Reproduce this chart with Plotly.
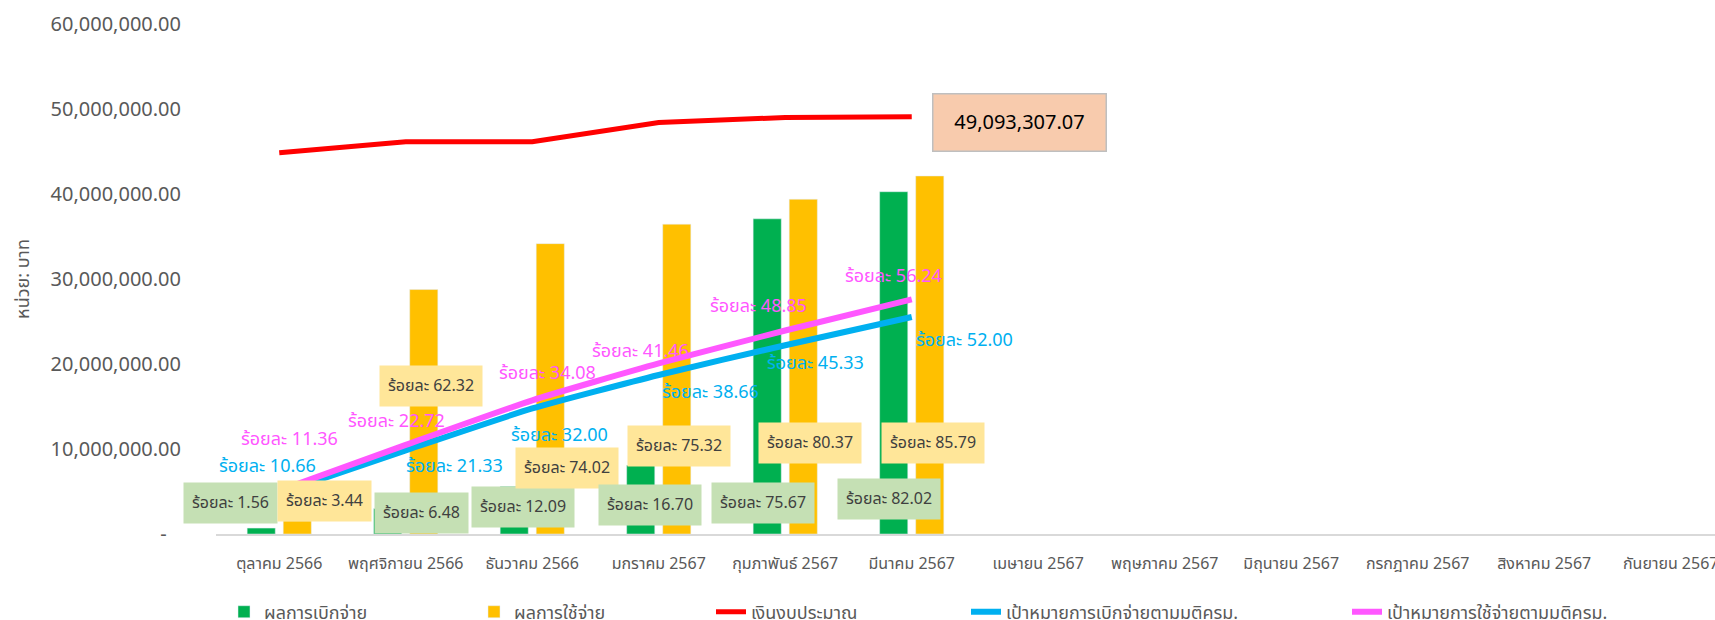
import plotly.graph_objects as go

FONT = "Tahoma, 'Leelawadee UI', 'Noto Sans Thai', 'Noto Sans', sans-serif"
GREY = "#595959"

MONTHS = [
    "ตุลาคม 2566", "พฤศจิกายน 2566", "ธันวาคม 2566", "มกราคม 2567",
    "กุมภาพันธ์ 2567", "มีนาคม 2567", "เมษายน 2567", "พฤษภาคม 2567",
    "มิถุนายน 2567", "กรกฎาคม 2567", "สิงหาคม 2567", "กันยายน 2567",
]

# values (baht), only Oct-Mar reported
DISBURSED = [0.70e6, 2.99e6, 5.58e6, 8.08e6, 37.08e6, 40.27e6]
SPENT = [1.54e6, 28.76e6, 34.16e6, 36.45e6, 39.38e6, 42.12e6]
BUDGET = [44.86e6, 46.15e6, 46.15e6, 48.40e6, 49.00e6, 49093307.07]
TARGET_DISB = [4.78e6, 9.84e6, 14.77e6, 18.71e6, 22.21e6, 25.53e6]
TARGET_SPEND = [5.10e6, 10.49e6, 15.73e6, 20.07e6, 23.94e6, 27.61e6]

PCT_DISB = ["1.56", "6.48", "12.09", "16.70", "75.67", "82.02"]
PCT_SPENT = ["3.44", "62.32", "74.02", "75.32", "80.37", "85.79"]
PCT_TGT_DISB = ["10.66", "21.33", "32.00", "38.66", "45.33", "52.00"]
PCT_TGT_SPEND = ["11.36", "22.72", "34.08", "41.46", "48.85", "56.24"]

Y_TICKS = [0, 10e6, 20e6, 30e6, 40e6, 50e6, 60e6]

# label offsets in px: (dx from category centre, dy up from anchor)
OFF_DISB = [(-49, 31), (16, 21), (-9, 27), (-9, 29), (-22, 31), (-23, 35)]
OFF_SPENT = [(45, 33), (25, 148), (35, 66), (20, 88), (25, 91), (21, 91)]
OFF_TGT_DISB = [(-12, 27), (49, -16), (27, -27), (52, -18), (30, -18), (53, -23)]
OFF_TGT_SPEND = [(10, 51), (-9, 23), (15, 27), (-18, 12), (-27, 24), (-18, 23)]

n = len(DISBURSED)
x = MONTHS[:n]

fig = go.Figure()
fig.add_trace(go.Bar(x=x, y=DISBURSED, name="ผลการเบิกจ่าย", marker_color="#00B050", legend="legend"))
fig.add_trace(go.Bar(x=x, y=SPENT, name="ผลการใช้จ่าย", marker_color="#FFC000", legend="legend2"))
fig.add_trace(go.Scatter(x=x, y=BUDGET, mode="lines", name="เงินงบประมาณ",
                         line=dict(color="#FF0000", width=5), legend="legend3"))
fig.add_trace(go.Scatter(x=x, y=TARGET_DISB, mode="lines", name="เป้าหมายการเบิกจ่ายตามมติครม.",
                         line=dict(color="#00B0F0", width=6, shape="spline", smoothing=0.5),
                         legend="legend4"))
fig.add_trace(go.Scatter(x=x, y=TARGET_SPEND, mode="lines", name="เป้าหมายการใช้จ่ายตามมติครม.",
                         line=dict(color="#FF57FF", width=6, shape="spline", smoothing=0.5),
                         legend="legend5"))

annotations = []
for i in range(n):
    dx, dy = OFF_DISB[i]
    annotations.append(dict(x=MONTHS[i], y=0, xshift=dx, yshift=dy, text="ร้อยละ " + PCT_DISB[i],
                            showarrow=False, bgcolor="#C5E0B4", borderpad=8,
                            font=dict(size=16, color="#404040")))
    dx, dy = OFF_SPENT[i]
    annotations.append(dict(x=MONTHS[i], y=0, xshift=dx, yshift=dy, text="ร้อยละ " + PCT_SPENT[i],
                            showarrow=False, bgcolor="#FFE699", borderpad=8,
                            font=dict(size=16, color="#404040")))
    dx, dy = OFF_TGT_DISB[i]
    annotations.append(dict(x=MONTHS[i], y=TARGET_DISB[i], xshift=dx, yshift=dy,
                            text="ร้อยละ " + PCT_TGT_DISB[i], showarrow=False,
                            font=dict(size=18, color="#00B0F0")))
    dx, dy = OFF_TGT_SPEND[i]
    annotations.append(dict(x=MONTHS[i], y=TARGET_SPEND[i], xshift=dx, yshift=dy,
                            text="ร้อยละ " + PCT_TGT_SPEND[i], showarrow=False,
                            font=dict(size=18, color="#FF57FF")))

annotations.append(dict(x=MONTHS[n - 1], y=BUDGET[-1], xshift=108, yshift=-6,
                        text=f"{BUDGET[-1]:,.2f}", showarrow=False, width=170, height=54,
                        bgcolor="#F8CBAD", bordercolor="#BFBFBF", borderwidth=1.5,
                        font=dict(size=20, color="#000000")))
annotations.append(dict(x=-0.1288, y=0.5, xref="paper", yref="paper", text="หน่วย: บาท",
                        xanchor="center", yanchor="middle", textangle=-90, showarrow=False,
                        font=dict(size=18, color=GREY)))

ticktext = [f"{v:,.2f}" if v else "-\u00a0\u00a0\u2009" for v in Y_TICKS]


def leg(px):
    return dict(x=(px - 216) / 1499, y=-0.153, xanchor="left", yanchor="middle",
                orientation="h", bgcolor="rgba(0,0,0,0)", font=dict(size=18, color=GREY))


fig.update_layout(
    width=1715,
    height=620,
    margin=dict(l=216, r=0, t=24, b=86, autoexpand=False),
    paper_bgcolor="white",
    plot_bgcolor="white",
    font=dict(family=FONT, color=GREY),
    barmode="group",
    bargap=0.43,
    bargroupgap=0.22,
    showlegend=True,
    legend=leg(224),
    legend2=leg(474),
    legend3=leg(711),
    legend4=leg(966),
    legend5=leg(1347),
    annotations=annotations,
    xaxis=dict(categoryorder="array", categoryarray=MONTHS, range=[-0.5, 11.35],
               showline=True, linecolor="#D9D9D9", linewidth=1.5, showgrid=False,
               tickfont=dict(size=16, color=GREY), ticks="", ticklabelstandoff=14,
               automargin=False),
    yaxis=dict(range=[0, 60e6], tickvals=Y_TICKS, ticktext=ticktext, showgrid=False,
               zeroline=False, showline=False, ticks="", automargin=False,
               tickfont=dict(size=20, color=GREY), ticklabelstandoff=34),
)

# drop the browser's default 8px body margin so the figure sits at the window origin
fig.write_html("out.html", config={"displayModeBar": False},
               post_script="document.body.style.margin='0';")
